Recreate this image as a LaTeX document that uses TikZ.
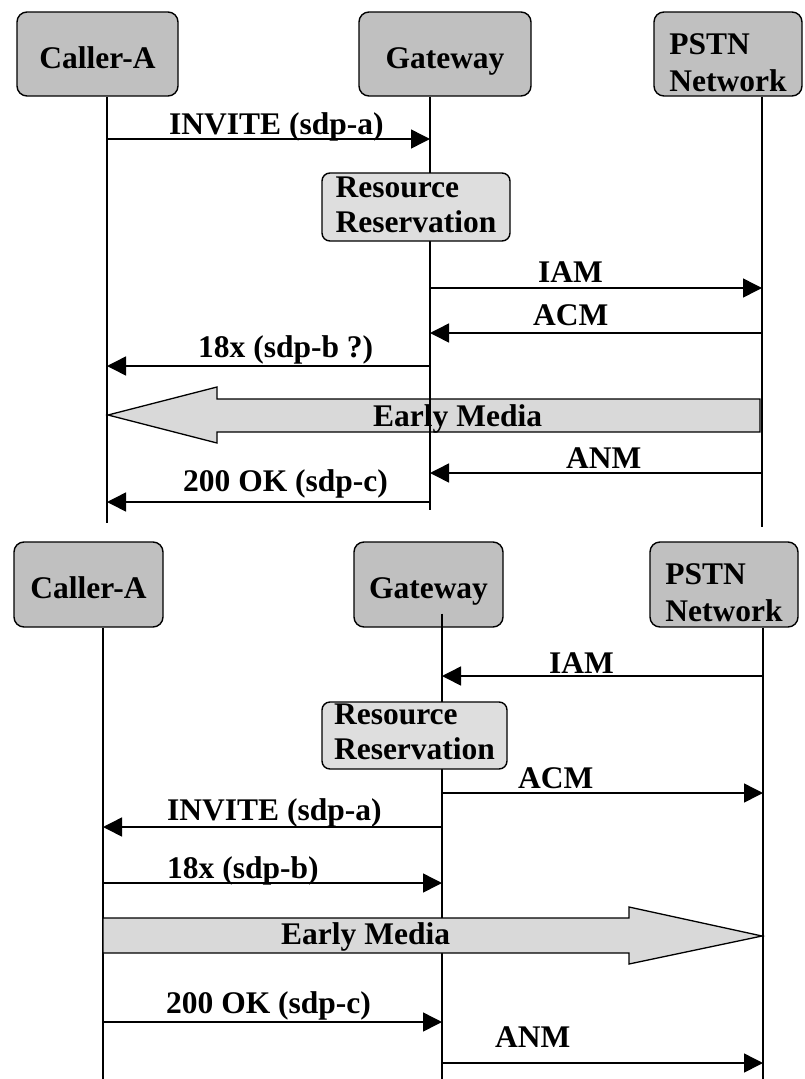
\documentclass[tikz,border=0pt]{standalone}
\usepackage{fontspec}
\setmainfont{Liberation Serif}
\usetikzlibrary{arrows.meta}
\definecolor{actorgray}{RGB}{192,192,192}
\definecolor{taskgray}{RGB}{222,222,222}
\definecolor{mediagray}{RGB}{217,217,217}
\tikzset{actorbox/.style={draw, fill=actorgray, line width=1.4pt, rounded corners=10pt, minimum height=84pt, inner sep=0pt, text height=28pt, text depth=0pt},
taskbox/.style={draw, fill=taskgray, line width=1.4pt, rounded corners=8pt, align=left, inner xsep=4pt, inner ysep=2pt}}

\begin{document}
\begin{tikzpicture}[
        x=1pt, y=-1pt,
        font=\bfseries\fontsize{31.5}{37}\selectfont,
        lifeline/.style={line width=1.5pt},
        msg/.style={line width=1.5pt, -{Triangle[length=19pt, width=19pt]}},
        msglabel/.style={anchor=base west, inner sep=0pt},
        media/.style={draw, fill=mediagray, line width=1.3pt, line join=miter}
    ]
        \useasboundingbox (0,0) rectangle (804,1079);
        % ---- upper chart: call from Caller-A ----
        \node[actorbox, minimum width=161pt] (caller1) at (97.5,54) {Caller-A};
        \node[actorbox, minimum width=172pt] (gw1) at (445,54) {Gateway};
        \node[actorbox, minimum width=148pt, align=left, text height=74pt, text depth=0pt] (pstn1) at (728,54) {PSTN\\Network};
        \coordinate (a1end) at (107,523);
        \coordinate (g1end) at (430,510);
        \coordinate (p1end) at (762,527);
        % Early media (behind the lifelines)
        \draw[media] (760,399) -- (217,399) -- (217,387) -- (108,415) -- (217,443) -- (217,432) -- (760,432) -- cycle;
        \node[msglabel] (media1) at (373,426) {Early Media};
        % Lifelines
        \draw[lifeline] (caller1.south -| a1end) -- (a1end);
        \draw[lifeline] (gw1.south -| g1end) -- (g1end);
        \draw[lifeline] (pstn1.south -| p1end) -- (p1end);
        \node[taskbox, minimum width=188pt, minimum height=68pt, font=\bfseries\fontsize{31.5}{35}\selectfont, text height=57pt, text depth=7pt] (res1) at (416,207) {Resource\\Reservation};
        % Messages
        \foreach \src/\dst/\y/\lx/\ly/\txt [count=\i] in {
            a1end/g1end/139/169/134/{INVITE (sdp-a)},
            g1end/p1end/288/538/282/{IAM},
            p1end/g1end/333/533/325/{ACM},
            g1end/a1end/366/198/357/{18x (sdp-b ?)},
            p1end/g1end/473/566/468/{ANM},
            g1end/a1end/502/183/491/{200 OK (sdp-c)}} {
            \draw[msg] (\src |- 0,\y) -- (\dst |- 0,\y);
            \node[msglabel] (m1-\i) at (\lx,\ly) {\txt};
        }
        % ---- lower chart: call from the PSTN ----
        \node[actorbox, minimum width=149pt, minimum height=85pt] (caller2) at (88.5,584.5) {Caller-A};
        \node[actorbox, minimum width=149pt, minimum height=85pt] (gw2) at (428.5,584.5) {Gateway};
        \node[actorbox, minimum width=148pt, minimum height=85pt, align=left, text height=74pt, text depth=0pt] (pstn2) at (724,584.5) {PSTN\\Network};
        \coordinate (a2end) at (103,1079);
        \coordinate (g2end) at (442,1079);
        \coordinate (p2end) at (763,1079);
        % Lifelines
        \draw[lifeline] (caller2.south -| a2end) -- (a2end);
        \draw[lifeline] ([yshift=14pt]gw2.south -| g2end) -- (g2end);
        \draw[lifeline] (pstn2.south -| p2end) -- (p2end);
        \node[taskbox, minimum width=185pt, minimum height=67pt, font=\bfseries\fontsize{31.5}{35}\selectfont, text height=55pt, text depth=8pt] (res2) at (414.5,735.5) {Resource\\Reservation};
        % Messages
        \foreach \src/\dst/\y/\lx/\ly/\txt [count=\i] in {
            p2end/g2end/676/549/673/{IAM},
            g2end/p2end/793/518/788/{ACM},
            g2end/a2end/827/167/820/{INVITE (sdp-a)},
            a2end/g2end/883/167/878/{18x (sdp-b)},
            a2end/g2end/1022/166/1013/{200 OK (sdp-c)},
            g2end/p2end/1063/495/1047/{ANM}} {
            \draw[msg] (\src |- 0,\y) -- (\dst |- 0,\y);
            \node[msglabel] (m2-\i) at (\lx,\ly) {\txt};
        }
        % Early media (over the lifelines)
        \draw[media] (103,918) -- (629,918) -- (629,907) -- (762,936) -- (629,964) -- (629,953) -- (103,953) -- cycle;
        \node[msglabel] (media2) at (281,944) {Early Media};
    \end{tikzpicture}
\end{document}
